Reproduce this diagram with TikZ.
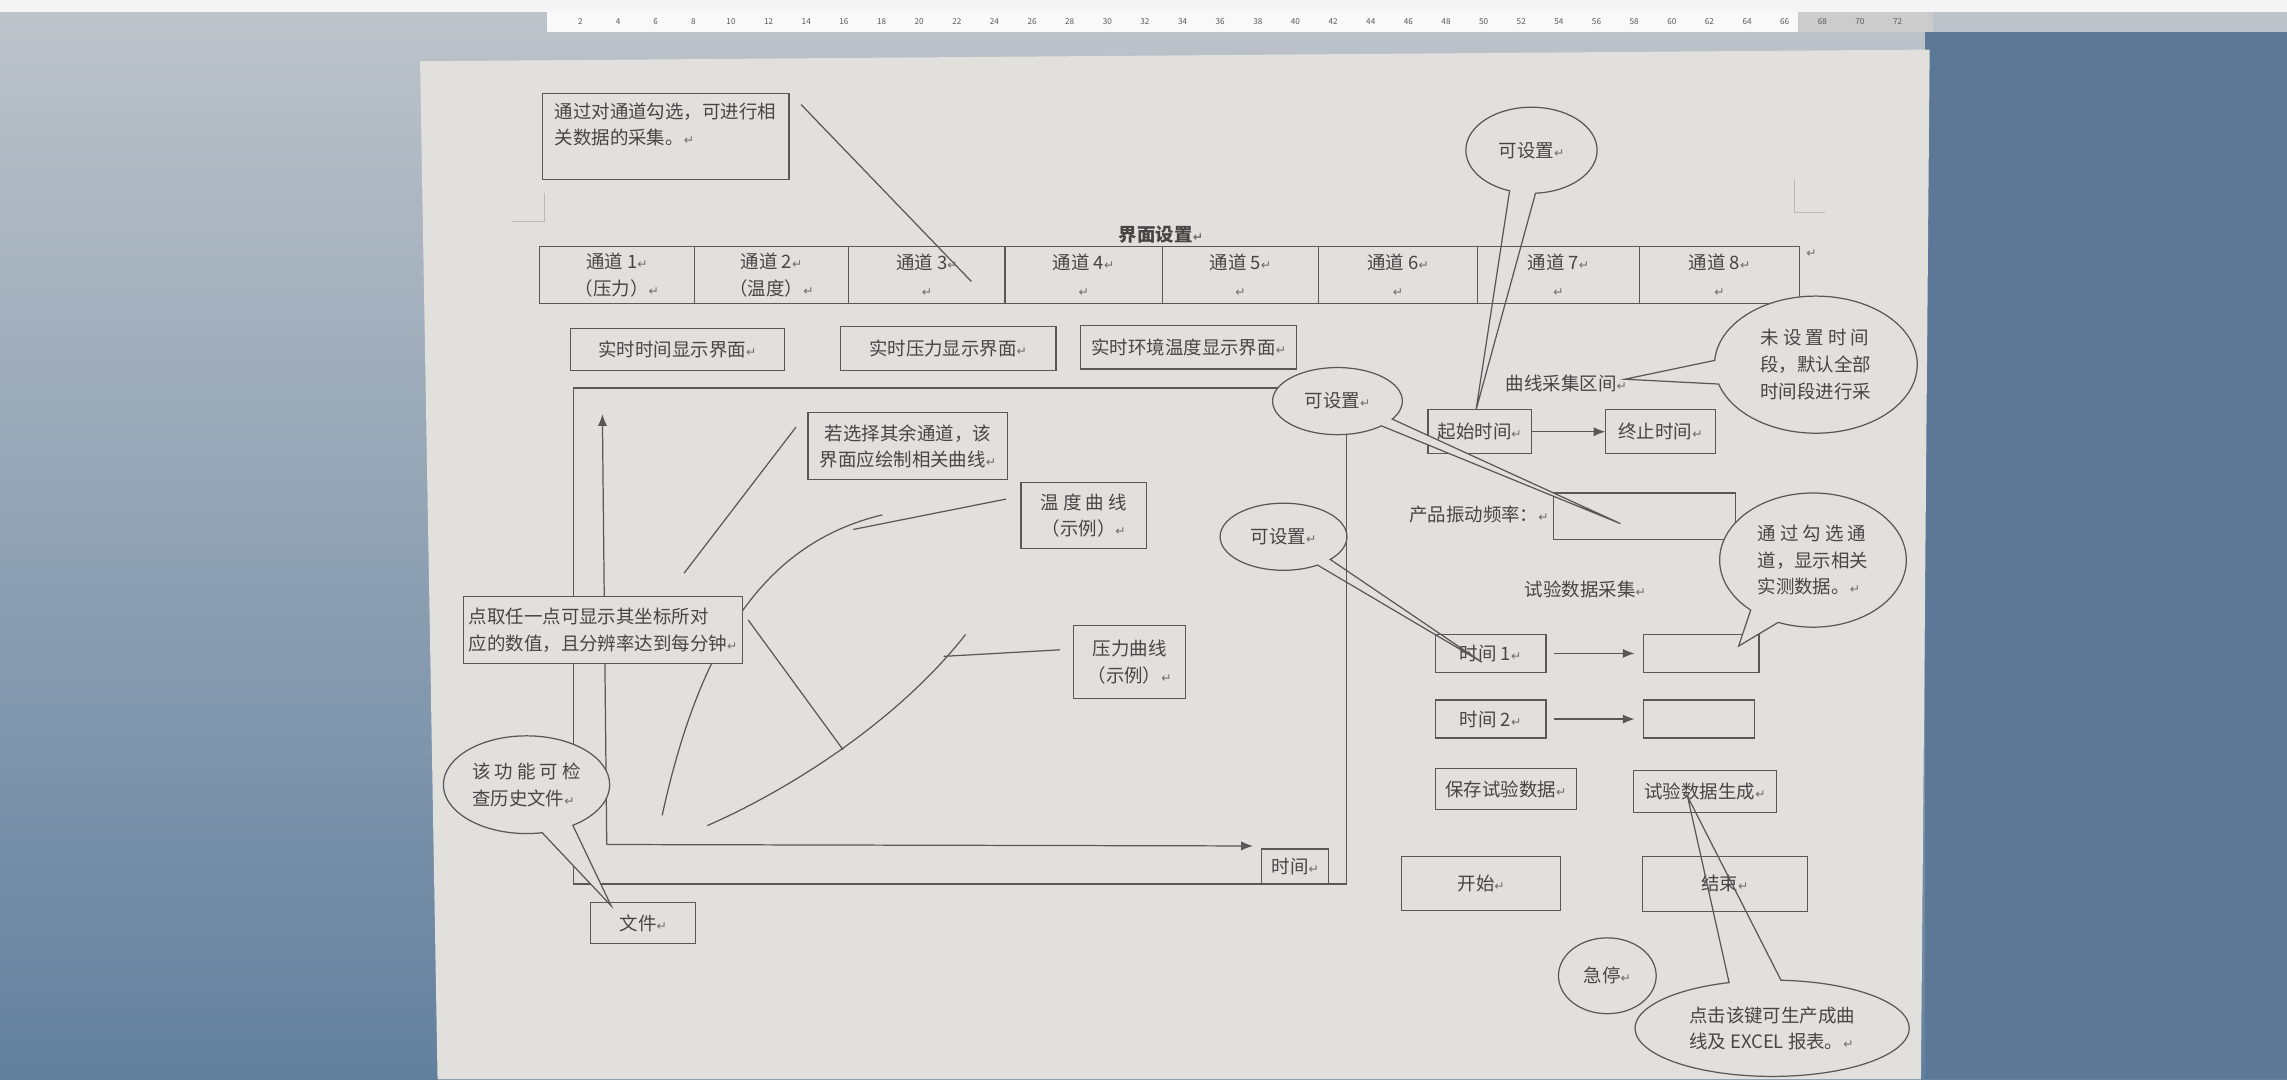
\documentclass[tikz,border=0pt]{standalone}
\usepackage{fontspec}
\setmainfont{Noto Sans CJK SC}
\newfontfamily\pmfont{DejaVu Sans}
\usetikzlibrary{arrows.meta, shapes.geometric, shapes.callouts}

\definecolor{pagec}{RGB}{225,224,221}
\definecolor{lc}{RGB}{88,88,88}
\definecolor{tc}{RGB}{70,70,70}
\definecolor{pmc}{RGB}{110,110,110}
\definecolor{scrtop}{RGB}{190,196,202}
\definecolor{scrbot}{RGB}{98,128,158}
\definecolor{scrright}{RGB}{92,120,150}

% Word paragraph mark
\newcommand\pmk{{\pmfont\fontsize{6}{6}\selectfont\textcolor{pmc}{↵}}}

\tikzset{
  % box from its two corners (picture units of 0.25mm)
  corners/.code args={(#1,#2) (#3,#4)}{%
    \pgfmathsetmacro\cw{(#3-#1)/4}%
    \pgfmathsetmacro\ch{(#4-#2)/4}%
    \pgfmathsetmacro\cx{(#1+#3)/2}%
    \pgfmathsetmacro\cy{(#2+#4)/2}%
    \edef\cornerset{\noexpand\tikzset{minimum width=\cw mm, minimum height=\ch mm, at={(\cx,\cy)}}}%
    \cornerset},
  txt/.style={text=tc, font=\fontsize{9}{13}\selectfont, inner sep=0pt},
  box/.style={txt, draw=lc, line width=0.6pt, fill=pagec, align=center},
  bubble/.style={txt, ellipse callout, draw=lc, line width=0.6pt, fill=pagec, align=left},
  link/.style={draw=lc, line width=0.6pt},
  arr/.style={link, -{Latex[length=2mm, width=1.6mm]}},
}

\begin{document}
\begin{tikzpicture}[x=0.25mm, y=-0.25mm]
  \useasboundingbox (0,0) rectangle (1568,740);

  % ----- Screen and page -----
  \shade[top color=scrtop, bottom color=scrbot] (0,0) rectangle (1568,740);
  \fill[scrright] (1320,22) rectangle (1568,740);
  \fill[white!92!gray] (0,0) rectangle (1568,8);
  \fill[pagec] (288,42) -- (1323,34) -- (1317,740) -- (300,740) -- cycle;

  % ruler
  \fill[white!95!gray] (375,8) rectangle (1233,22);
  \fill[gray!40] (1233,8) rectangle (1325,22);
  \foreach \n in {2,4,...,72}
    \node[font=\fontsize{4}{4}\selectfont, text=gray!70!black] at ({398+(\n/2-1)*25.8},15) {\n};

  % margin marks
  \draw[gray!55, line width=0.5pt] (351,152) -- (373,152) -- (373,132);
  \draw[gray!55, line width=0.5pt] (1230,123) -- (1230,146) -- (1251,146);

  % ----- Channel selection -----
  \node[box, corners={(372,64) (541,123)}] (note) {};
  \node[txt, anchor=north west, align=left] (notetxt) at (380,70) {通过对通道勾选，可进行相\\关数据的采集。\pmk};

  \node[txt, font=\fontsize{9}{13}\selectfont\bfseries] (title) at (796,161) {界面设置\pmk};

  \foreach \i/\xa/\xb/\sub in {1/370/476/{（压力）}, 2/476/582/{（温度）}, 3/582/689/{}, 4/689/797/{},
      5/797/904/{}, 6/904/1013/{}, 7/1013/1124/{}, 8/1124/1234/{}}
    \node[box, corners={(\xa,169) (\xb,208)}] (ch\i) {通道 \i\pmk\\\sub\pmk};
  \node[txt] (tabend) at (1242,174) {\pmk};

  \coordinate (ch3pt) at (666,193);
  \draw[link, shorten <=2.8mm] (note.north east) -- (ch3pt);

  % ----- Display buttons -----
  \node[box, corners={(391,225) (538,254)}] (btime) {实时时间显示界面\pmk};
  \node[box, corners={(576,224) (724,254)}] (bpress) {实时压力显示界面\pmk};
  \node[box, corners={(741,223) (889,253)}] (btemp) {实时环境温度显示界面\pmk};

  % ----- Curve panel -----
  \node[box, corners={(393,266) (923,606)}] (chart) {};
  \coordinate (org) at (416,579);
  \coordinate (ytop) at (413,284);
  \coordinate (xend) at (859,580);
  \draw[arr] (org) -- (ytop);
  \draw[arr] (org) -- (xend);

  % example curves
  \draw[link] (454,559) .. controls (480,440) and (525,372) .. (605,353);
  \draw[link] (485,566) .. controls (540,542) and (615,495) .. (662,435);

  \coordinate (selpt) at (469,393);
  \coordinate (tpt) at (585,363);
  \coordinate (ppt) at (647,450);
  \coordinate (pkpt) at (578,514);

  \node[box, corners={(554,283) (691,329)}] (sel) {若选择其余通道，该\\界面应绘制相关曲线\pmk};
  \node[box, corners={(700,331) (786,376)}] (tcurve) {温\ 度\ 曲\ 线\\（示例）\pmk};
  \node[box, corners={(736,429) (813,479)}] (pcurve) {压力曲线\\（示例）\pmk};
  \node[box, align=left, corners={(318,409) (509,455)}] (pick) {点取任一点可显示其坐标所对\\应的数值，且分辨率达到每分钟\pmk};
  \node[box, corners={(865,582) (911,606)}] (taxis) {时间\pmk};
  \node[box, corners={(405,619) (477,647)}] (file) {文件\pmk};

  \draw[link, shorten <=3.2mm] (sel.north west) -- (selpt);
  \draw[link, shorten <=2.5mm] (tcurve.163) -- (tpt);
  \draw[link, shorten <=2.2mm] (pcurve.167) -- (ppt);
  \draw[link, shorten <=1.5mm] (pick.7) -- (pkpt);

  % ----- Acquisition settings -----
  \node[box, corners={(979,281) (1050,311)}] (tstart) {起始时间\pmk};
  \node[box, corners={(1101,281) (1176,311)}] (tstop) {终止时间\pmk};
  \draw[arr] (tstart) -- (tstop);
  \node[txt] (span) at (1074,263) {曲线采集区间\pmk};

  \node[txt] (freq) at (1014,353) {产品振动频率：\pmk};
  \node[box, corners={(1065,338) (1190,370)}] (freqbox) {};

  \node[txt] (collect) at (1087,404) {试验数据采集\pmk};
  \node[box, corners={(984,435) (1060,461)}] (t1) {时间 1\pmk};
  \node[box, corners={(1127,435) (1206,461)}] (v1) {};
  \node[box, corners={(984,480) (1060,506)}] (t2) {时间 2\pmk};
  \node[box, corners={(1127,480) (1203,506)}] (v2) {};
  \draw[arr, shorten <=1.2mm, shorten >=1.5mm] (t1) -- (v1);
  \draw[arr, shorten <=1.2mm, shorten >=1.5mm] (t2) -- (v2);

  \node[box, corners={(984,527) (1081,555)}] (save) {保存试验数据\pmk};
  \node[box, corners={(1120,528) (1218,557)}] (gen) {试验数据生成\pmk};
  \node[box, corners={(961,587) (1070,624)}] (startbtn) {开始\pmk};
  \node[box, corners={(1126,587) (1239,625)}] (stopbtn) {结束\pmk};
  \node[txt, ellipse, draw=lc, line width=0.6pt, fill=pagec, minimum width=16.75mm, minimum height=13mm] (estop) at (1102,669) {急停\pmk};

  % ----- Speech bubbles -----
  \coordinate (s1tip) at (1012,281);
  \node[bubble, fill=none, minimum width=22.5mm, minimum height=14.75mm, callout absolute pointer={(s1tip)}, callout pointer arc=23] (set1) at (1050,103) {可设置\pmk};

  \coordinate (gaptip) at (1114,260);
  \node[bubble, minimum width=34.75mm, minimum height=23.5mm, callout absolute pointer={(gaptip)}, callout pointer arc=20] (gapnote) at (1245,250) {未 设 置 时 间\\段，默认全部\\时间段进行采};

  \coordinate (s2tip) at (1111,359);
  \node[bubble, minimum width=22.25mm, minimum height=11.5mm, callout absolute pointer={(s2tip)}] (set2) at (917,275) {可设置\pmk};

  \coordinate (chktip) at (1192,443);
  \node[bubble, minimum width=32mm, minimum height=23mm, callout absolute pointer={(chktip)}, callout pointer arc=20] (chknote) at (1243,384) {通 过 勾 选 通\\道，显示相关\\实测数据。\pmk};

  \coordinate (s3tip) at (1016,454);
  \node[bubble, fill=none, minimum width=21.75mm, minimum height=11.5mm, callout absolute pointer={(s3tip)}] (set3) at (880,368) {可设置\pmk};

  \coordinate (histtip) at (419,621);
  \node[bubble, minimum width=28.5mm, minimum height=16.75mm, callout absolute pointer={(histtip)}, callout pointer arc=23] (hist) at (361,538) {该 功 能 可 检\\查历史文件\pmk};

  \coordinate (gentip) at (1157,546);
  \node[bubble, fill=none, minimum width=47mm, minimum height=16.5mm, callout absolute pointer={(gentip)}, callout pointer arc=22] (gennote) at (1215,705) {点击该键可生产成曲\\线及 EXCEL 报表。\pmk};
\end{tikzpicture}
\end{document}
